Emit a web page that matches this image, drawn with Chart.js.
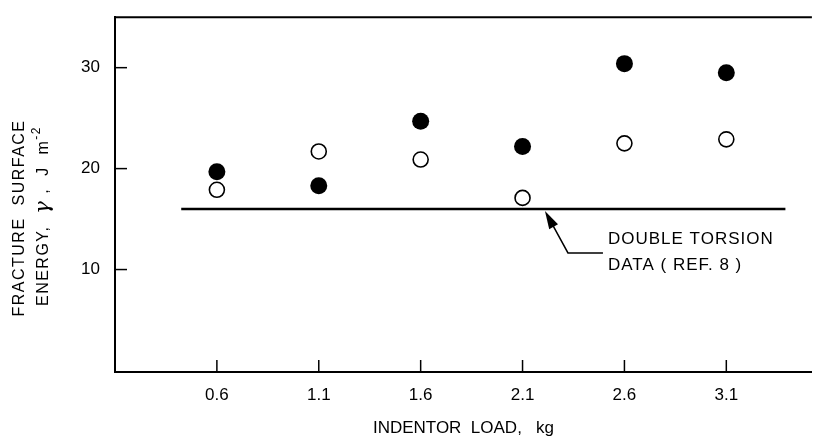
<!DOCTYPE html>
<html>
<head>
<meta charset="utf-8">
<script src="https://cdn.jsdelivr.net/npm/chart.js@4"></script>
<style>
  html, body { margin: 0; padding: 0; background: #fff; }
  canvas { display: block; }
</style>
</head>
<body>
<canvas id="myChart" width="821" height="439"></canvas>
<script>
// indentor load, kg
const loads = [0.6, 1.1, 1.6, 2.1, 2.6, 3.1];
// fracture surface energy, J m^-2
const filledEnergy = [19.7, 18.3, 24.7, 22.2, 30.4, 29.5];
const openEnergy = [17.9, 21.7, 20.9, 17.1, 22.5, 22.9];
// double torsion data (ref. 8), a flat line
const torsionLoads = [0.425, 3.39];
const torsionEnergy = [16, 16];
const yTickValues = [10, 20, 30];
const noteLines = ['DOUBLE TORSION', 'DATA ( REF. 8 )'];

const FONT = '"Liberation Sans", "DejaVu Sans", sans-serif';

function pts(xs, ys) {
  return xs.map(function (x, i) { return { x: x, y: ys[i] }; });
}

// draw a row of text pieces centred on (cx, cy), each with its own font and lift
function drawRun(ctx, parts, cx, cy) {
  let total = 0;
  parts.forEach(function (p) { ctx.font = p.font; p.w = ctx.measureText(p.text).width; total += p.w; });
  let x = cx - total / 2;
  parts.forEach(function (p) {
    ctx.font = p.font;
    ctx.fillText(p.text, x, cy - (p.lift || 0));
    x += p.w;
  });
}

// ticks that point into the plot, a top frame line, the note and the y title
const extras = {
  id: 'extras',
  afterDraw(chart) {
    const ctx = chart.ctx;
    const a = chart.chartArea;
    const xs = chart.scales.x, ys = chart.scales.y;
    ctx.save();
    ctx.strokeStyle = '#000';
    ctx.fillStyle = '#000';
    ctx.lineWidth = 2;
    ctx.beginPath();
    ctx.moveTo(a.left, a.top);
    ctx.lineTo(a.right, a.top);
    ctx.stroke();

    ctx.lineWidth = 1.5;
    ys.ticks.forEach(function (t) {
      const p = ys.getPixelForValue(t.value);
      ctx.beginPath(); ctx.moveTo(a.left, p); ctx.lineTo(a.left + 12, p); ctx.stroke();
    });
    xs.ticks.forEach(function (t) {
      const p = xs.getPixelForValue(t.value);
      ctx.beginPath(); ctx.moveTo(p, a.bottom); ctx.lineTo(p, a.bottom - 12); ctx.stroke();
    });

    // arrow to the torsion line
    const tipX = xs.getPixelForValue(2.21), tipY = ys.getPixelForValue(torsionEnergy[0]) + 2;
    const elbX = tipX + 23, elbY = tipY + 42;
    ctx.lineWidth = 1.5;
    ctx.beginPath();
    ctx.moveTo(elbX + 35, elbY);
    ctx.lineTo(elbX, elbY);
    ctx.lineTo(tipX + 6, tipY + 11);
    ctx.stroke();
    const ang = Math.atan2(tipY - elbY, tipX - elbX);
    const len = 18, half = 5;
    const bx = tipX - len * Math.cos(ang), by = tipY - len * Math.sin(ang);
    ctx.beginPath();
    ctx.moveTo(tipX, tipY);
    ctx.lineTo(bx + half * Math.sin(ang), by - half * Math.cos(ang));
    ctx.lineTo(bx - half * Math.sin(ang), by + half * Math.cos(ang));
    ctx.closePath();
    ctx.fill();

    ctx.font = '17px ' + FONT;
    ctx.letterSpacing = '1px';
    ctx.textBaseline = 'middle';
    ctx.textAlign = 'left';
    ctx.fillText(noteLines[0], elbX + 40, elbY - 14);
    ctx.fillText(noteLines[1], elbX + 40, elbY + 12);

    // y axis title, two rotated lines
    ctx.translate(0, 218);
    ctx.rotate(-Math.PI / 2);
    ctx.textAlign = 'left';
    ctx.letterSpacing = '1.5px';
    const f = '16px ' + FONT;
    drawRun(ctx, [{ text: 'FRACTURE  SURFACE', font: f }], 0, 20);
    drawRun(ctx, [
      { text: 'ENERGY,  ', font: f },
      { text: 'γ', font: 'italic 21px "DejaVu Serif", serif' },
      { text: ' ,  J  m', font: f },
      { text: '-2', font: '12px ' + FONT, lift: 7 }
    ], 2, 44);
    ctx.restore();
  }
};

const canvas = document.getElementById('myChart');
canvas.getContext('2d').letterSpacing = '1px';

new Chart(canvas, {
  type: 'scatter',
  data: {
    datasets: [
      {
        data: pts(loads, filledEnergy),
        pointRadius: 8.5,
        pointBackgroundColor: '#000',
        pointBorderColor: '#000',
        pointBorderWidth: 0
      },
      {
        data: pts(loads, openEnergy),
        pointRadius: 7.5,
        pointBackgroundColor: '#fff',
        pointBorderColor: '#000',
        pointBorderWidth: 1.6
      },
      {
        type: 'line',
        data: pts(torsionLoads, torsionEnergy),
        borderColor: '#000',
        borderWidth: 2.5,
        pointRadius: 0
      }
    ]
  },
  options: {
    responsive: false,
    animation: false,
    layout: { padding: { top: 11, right: 0, left: 0, bottom: 0 } },
    plugins: { legend: { display: false }, tooltip: { enabled: false } },
    scales: {
      x: {
        type: 'linear',
        min: 0.1,
        max: 3.52,
        afterBuildTicks: function (s) { s.ticks = loads.map(function (v) { return { value: v }; }); },
        afterFit: function (s) { s.height = 67; },
        grid: { display: false },
        border: { display: true, color: '#000', width: 2 },
        ticks: {
          color: '#000',
          padding: 5,
          maxRotation: 0,
          font: { family: FONT, size: 17 },
          callback: function (v) { return v.toFixed(1); }
        },
        title: {
          display: true,
          text: 'INDENTOR  LOAD,   kg',
          color: '#000',
          font: { family: FONT, size: 17 },
          padding: { top: 16, bottom: 0 }
        }
      },
      y: {
        min: -0.15,
        max: 35,
        afterBuildTicks: function (s) { s.ticks = yTickValues.map(function (v) { return { value: v }; }); },
        afterFit: function (s) { s.width = 115; },
        grid: { display: false },
        border: { display: true, color: '#000', width: 2 },
        ticks: {
          color: '#000',
          padding: 7,
          font: { family: FONT, size: 17 }
        }
      }
    }
  },
  plugins: [extras]
});
</script>
</body>
</html>
